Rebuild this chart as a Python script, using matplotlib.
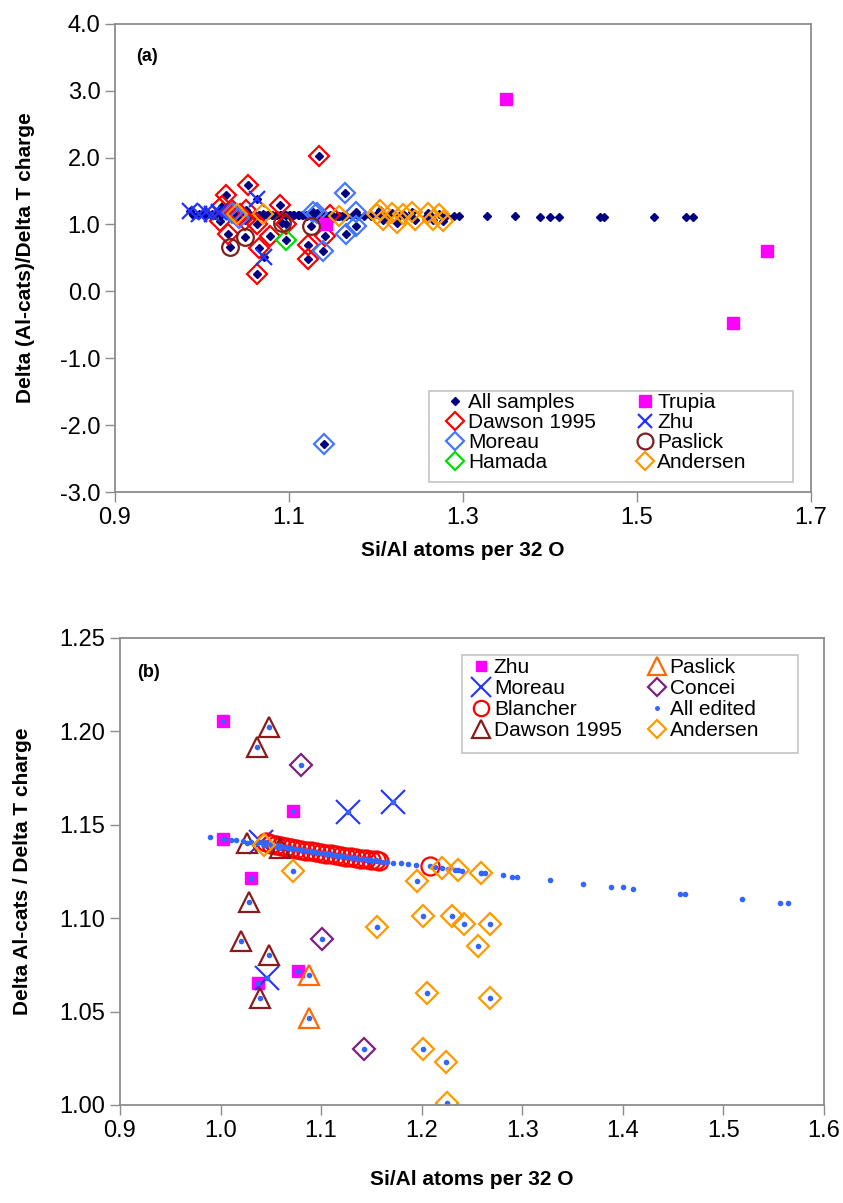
import matplotlib
matplotlib.use("Agg")
import matplotlib.pyplot as plt
from matplotlib.patches import Rectangle

# ---- shared band of points (Si/Al, Delta ratio) ----
band_x = [0.990, 1.003, 1.010, 1.015, 1.022, 1.030, 1.036, 1.044, 1.050, 1.055,
          1.061, 1.066, 1.071, 1.076, 1.081, 1.086, 1.091, 1.096, 1.101, 1.106,
          1.111, 1.116, 1.121, 1.126, 1.131, 1.136, 1.141, 1.146, 1.151, 1.156,
          1.161, 1.166, 1.172, 1.179, 1.186, 1.194, 1.213, 1.226, 1.233, 1.240,
          1.259, 1.263, 1.281, 1.290, 1.295, 1.328, 1.360, 1.388, 1.400, 1.410,
          1.457, 1.462, 1.519, 1.556, 1.564]
band_y = [1.1433, 1.1425, 1.1420, 1.1416, 1.1411, 1.1405, 1.1400, 1.1394, 1.1389, 1.1385,
          1.1380, 1.1376, 1.1372, 1.1368, 1.1363, 1.1359, 1.1355, 1.1351, 1.1347, 1.1343,
          1.1339, 1.1335, 1.1331, 1.1327, 1.1323, 1.1319, 1.1315, 1.1311, 1.1307, 1.1304,
          1.1301, 1.1299, 1.1297, 1.1294, 1.1290, 1.1285, 1.1275, 1.1262, 1.1258, 1.1254,
          1.1242, 1.1240, 1.1231, 1.1222, 1.1222, 1.1204, 1.1184, 1.1166, 1.1166, 1.1157,
          1.1129, 1.1129, 1.1102, 1.1082, 1.1082]

# ---- panel (a) ----
a_dawson_x = [1.134, 1.053, 1.028, 1.090, 1.023, 1.021, 1.030, 1.063, 1.078, 1.065,
              1.063, 1.122, 1.122, 1.141, 1.147, 1.097, 1.044, 1.051, 1.049, 1.036]
a_dawson_y = [2.02, 1.59, 1.44, 1.29, 1.27, 1.05, 0.86, 1.00, 0.83, 0.65,
              0.26, 0.69, 0.49, 0.82, 1.14, 1.00, 1.15, 1.22, 1.07, 1.20]
a_moreau_x = [1.164, 1.139, 1.166, 1.132, 1.128, 1.177, 1.177, 1.034, 1.042, 1.140]
a_moreau_y = [1.47, 0.60, 0.85, 1.17, 1.19, 1.19, 0.98, 1.17, 1.10, -2.28]
a_hamada_x = [1.097]
a_hamada_y = [0.77]
a_trupia_x = [1.143, 1.350, 1.610, 1.649]
a_trupia_y = [1.00, 2.88, -0.47, 0.60]
a_zhu_x = [0.986, 0.997, 1.005, 1.012, 1.020, 1.063, 1.071]
a_zhu_y = [1.20, 1.15, 1.19, 1.15, 1.18, 1.38, 0.52]
a_paslick_x = [1.032, 1.049, 1.092, 1.125]
a_paslick_y = [0.66, 0.81, 1.02, 0.98]
a_andersen_x = [1.157, 1.201, 1.208, 1.218, 1.224, 1.231, 1.241, 1.245, 1.260, 1.266,
                1.272, 1.277, 1.205, 1.040, 1.070]
a_andersen_y = [1.12, 1.15, 1.07, 1.17, 1.02, 1.15, 1.19, 1.07, 1.17, 1.07,
                1.15, 1.05, 1.22, 1.15, 1.15]

# ---- panel (b) ----
b_zhu_x = [1.002, 1.002, 1.030, 1.072, 1.077, 1.037]
b_zhu_y = [1.2057, 1.1422, 1.1215, 1.1574, 1.0719, 1.0655]
b_moreau_x = [1.046, 1.127, 1.172, 1.040]
b_moreau_y = [1.068, 1.157, 1.162, 1.141]
b_blancher_x = [1.045, 1.050, 1.055, 1.060, 1.065, 1.070, 1.075, 1.080, 1.085, 1.090,
                1.095, 1.100, 1.105, 1.110, 1.115, 1.120, 1.125, 1.130, 1.135, 1.140,
                1.145, 1.150, 1.155, 1.158, 1.208]
b_blancher_y = [1.1405, 1.1398, 1.1392, 1.1387, 1.1382, 1.1377, 1.1372, 1.1367, 1.1362, 1.1358,
                1.1353, 1.1349, 1.1345, 1.1341, 1.1337, 1.1333, 1.1329, 1.1325, 1.1322, 1.1318,
                1.1315, 1.1312, 1.1309, 1.1306, 1.1280]
b_dawson_x = [1.048, 1.036, 1.026, 1.059, 1.028, 1.020, 1.048, 1.039]
b_dawson_y = [1.2025, 1.1918, 1.1400, 1.1374, 1.1088, 1.0880, 1.0803, 1.0571]
b_paslick_x = [1.088, 1.088]
b_paslick_y = [1.0696, 1.0464]
b_concei_x = [1.080, 1.101, 1.143]
b_concei_y = [1.182, 1.089, 1.030]
b_andersen_x = [1.043, 1.072, 1.156, 1.195, 1.201, 1.205, 1.201, 1.224, 1.225, 1.220,
                1.236, 1.259, 1.230, 1.242, 1.268, 1.256, 1.268]
b_andersen_y = [1.139, 1.125, 1.095, 1.120, 1.101, 1.060, 1.030, 1.023, 1.001, 1.127,
                1.126, 1.124, 1.101, 1.097, 1.097, 1.085, 1.057]

# all samples / all edited = the band plus every marked sample
a_all_x = band_x + b_blancher_x + a_dawson_x + a_moreau_x + a_hamada_x + a_zhu_x + a_paslick_x + a_andersen_x
a_all_y = band_y + b_blancher_y + a_dawson_y + a_moreau_y + a_hamada_y + a_zhu_y + a_paslick_y + a_andersen_y
b_all_x = band_x + b_zhu_x + b_moreau_x + b_blancher_x + b_dawson_x + b_paslick_x + b_concei_x + b_andersen_x
b_all_y = band_y + b_zhu_y + b_moreau_y + b_blancher_y + b_dawson_y + b_paslick_y + b_concei_y + b_andersen_y

plt.rcParams['font.family'] = ['Liberation Sans', 'DejaVu Sans']

fig = plt.figure(figsize=(8.43, 12.03), dpi=100)
axa = fig.add_axes([0.1364, 0.591, 0.8256, 0.3893])
axb = fig.add_axes([0.1423, 0.0815, 0.835, 0.3882])

grey = '#8c8c8c'
for ax in (axa, axb):
    for s in ax.spines.values():
        s.set_color(grey)
        s.set_linewidth(1.3)
    ax.tick_params(direction='out', length=7, width=1.0, color=grey)

def hollow(ax, x, y, m, c, ms, lab, mew=1.6):
    ax.plot(x, y, linestyle='none', marker=m, markersize=ms, markerfacecolor='none',
            markeredgecolor=c, markeredgewidth=mew, label=lab)

# panel (a)
axa.plot(a_all_x, a_all_y, linestyle='none', marker='D', markersize=4.5, color='#000080',
         label='All samples')
hollow(axa, a_dawson_x, a_dawson_y, 'D', '#ff0000', 10, 'Dawson 1995')
hollow(axa, a_moreau_x, a_moreau_y, 'D', '#4477ff', 10, 'Moreau')
hollow(axa, a_hamada_x, a_hamada_y, 'D', '#00dd00', 10, 'Hamada')
axa.plot(a_trupia_x, a_trupia_y, linestyle='none', marker='s', markersize=8.5, color='#ff00ff',
         label='Trupia')
axa.plot(a_zhu_x, a_zhu_y, linestyle='none', marker='x', markersize=11, markeredgewidth=1.6,
         color='#2233ff', label='Zhu')
hollow(axa, a_paslick_x, a_paslick_y, 'o', '#7f1f1f', 12, 'Paslick')
hollow(axa, a_andersen_x, a_andersen_y, 'D', '#ff9900', 10, 'Andersen')

axa.set_xlim(0.9, 1.7)
axa.set_ylim(-3.0, 4.0)
axa.set_xticks([0.9, 1.1, 1.3, 1.5, 1.7])
axa.set_xticklabels(['0.9', '1.1', '1.3', '1.5', '1.7'], fontsize=17)
axa.set_yticks(range(-3, 5))
axa.set_yticklabels(['%.1f' % v for v in range(-3, 5)], fontsize=17)
axa.set_xlabel('Si/Al atoms per 32 O', fontsize=15, fontweight='bold')
axa.set_ylabel('Delta (Al-cats)/Delta T charge', fontsize=15, fontweight='bold')
axa.xaxis.set_label_coords(0.5, -0.105)
axa.yaxis.set_label_coords(-0.115, 0.5)
axa.text(0.03, 0.93, '(a)', transform=axa.transAxes, fontsize=13, fontweight='bold', va='center')
axa.add_patch(Rectangle((0.451, 0.021), 0.523, 0.195, transform=axa.transAxes, fill=False,
                        edgecolor='#c8c8c8', linewidth=1.3, zorder=3))
axa.legend(ncol=2, loc='upper left', bbox_to_anchor=(0.4756, 0.211), frameon=False,
           fontsize=15, handlelength=0.9, handletextpad=0.15, labelspacing=0.05,
           columnspacing=1.9, borderpad=0, borderaxespad=0, markerscale=0.95)

# panel (b)
axb.plot(b_zhu_x, b_zhu_y, linestyle='none', marker='s', markersize=8, color='#ff00ff', label='Zhu')
axb.plot(b_moreau_x, b_moreau_y, linestyle='none', marker='x', markersize=17, markeredgewidth=1.5,
         color='#2233ff', label='Moreau')
hollow(axb, b_blancher_x, b_blancher_y, 'o', '#ff0000', 13, 'Blancher')
hollow(axb, b_dawson_x, b_dawson_y, '^', '#8b1a1a', 15, 'Dawson 1995')
hollow(axb, b_paslick_x, b_paslick_y, '^', '#ff6a00', 15, 'Paslick')
hollow(axb, b_concei_x, b_concei_y, 'D', '#7f1f7f', 11, 'Concei')
axb.plot(b_all_x, b_all_y, linestyle='none', marker='o', markersize=3, color='#3366ff',
         label='All edited')
hollow(axb, b_andersen_x, b_andersen_y, 'D', '#ff9900', 11, 'Andersen')

axb.set_xlim(0.9, 1.6)
axb.set_ylim(1.0, 1.25)
bx = [0.9, 1.0, 1.1, 1.2, 1.3, 1.4, 1.5, 1.6]
axb.set_xticks(bx)
axb.set_xticklabels(['%.1f' % v for v in bx], fontsize=17)
by = [1.00, 1.05, 1.10, 1.15, 1.20, 1.25]
axb.set_yticks(by)
axb.set_yticklabels(['%.2f' % v for v in by], fontsize=17)
axb.set_xlabel('Si/Al atoms per 32 O', fontsize=15, fontweight='bold')
axb.set_ylabel('Delta Al-cats / Delta T charge', fontsize=15, fontweight='bold')
axb.xaxis.set_label_coords(0.5, -0.14)
axb.yaxis.set_label_coords(-0.125, 0.5)
axb.text(0.024, 0.927, '(b)', transform=axb.transAxes, fontsize=13, fontweight='bold', va='center')
axb.add_patch(Rectangle((0.4854, 0.7537), 0.4776, 0.21, transform=axb.transAxes, fill=False,
                        edgecolor='#c8c8c8', linewidth=1.3, zorder=3))
axb.legend(ncol=2, loc='upper left', bbox_to_anchor=(0.5, 0.957), frameon=False,
           fontsize=15, handlelength=0.9, handletextpad=0.15, labelspacing=0.1,
           columnspacing=1.25, borderpad=0, borderaxespad=0, markerscale=0.85)

fig.savefig('out.png', dpi=100)
